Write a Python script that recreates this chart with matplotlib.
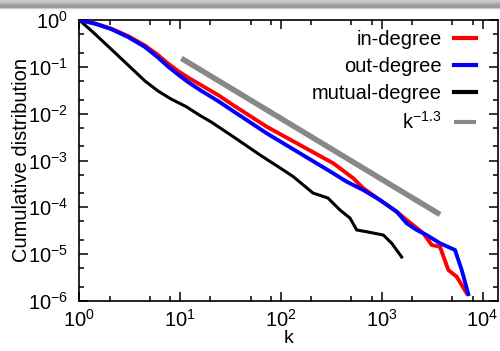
import numpy as np
import matplotlib
matplotlib.use("Agg")
import matplotlib.pyplot as plt
from matplotlib.ticker import LogLocator, NullFormatter

plt.rcParams['font.family'] = ['Liberation Sans', 'DejaVu Sans']
plt.rcParams['mathtext.fontset'] = 'custom'
plt.rcParams['mathtext.rm'] = 'Liberation Sans'
plt.rcParams['mathtext.it'] = 'Liberation Sans'

# ---- data ----
k_in = [1, 1.431, 2.063, 3.042, 4.485, 6.037, 7.586, 9.533, 11.98, 15.76, 23.77, 33.48,
        72.3, 155, 331, 523, 657, 962, 1409, 1770, 2588, 3133, 3787, 4581, 5550, 6970]
p_in = [1, 0.842, 0.658, 0.455, 0.2854, 0.1789, 0.1178, 0.0814, 0.0592, 0.04195,
        0.02503, 0.01531, 0.00527, 0.00214, 0.000871, 0.000417, 0.000255, 0.000143,
        8.06e-5, 5.36e-5, 2.79e-5, 1.57e-5, 1.44e-5, 4.59e-6, 3.30e-6, 1.46e-6]

k_out = [1, 1.431, 2.063, 3.042, 4.485, 6.037, 7.586, 9.533, 11.98, 15.76, 23.77, 33.48,
         72.3, 155, 331, 450, 657, 962, 1409, 1770, 2225, 2795, 3787, 5335, 6220, 7230]
p_out = [1, 0.834, 0.642, 0.4335, 0.2652, 0.1582, 0.1016, 0.0686, 0.0474, 0.0320,
         0.01864, 0.01140, 0.00381, 0.00142, 0.000532, 0.000352, 0.000234, 0.000143,
         8.06e-5, 4.56e-5, 3.28e-5, 2.56e-5, 1.71e-5, 1.23e-5, 4.59e-6, 1.40e-6]

k_mut = [1, 1.431, 2.063, 3.042, 4.485, 6.037, 8.124, 11.44, 15.76, 20.35, 33.7, 62.1,
         105.7, 132.8, 208, 293, 385, 484, 565, 710, 1038, 1257, 1578]
p_mut = [1, 0.5025, 0.2403, 0.1094, 0.0498, 0.03047, 0.02056, 0.01422, 0.00913,
         0.00664, 0.00322, 0.00131, 0.000626, 0.000451, 0.000202, 0.000158, 8.77e-5,
         5.92e-5, 3.28e-5, 3.01e-5, 2.56e-5, 1.71e-5, 8.69e-6]

k_fit = [10.3, 3790]
fit_exponent = -1.3
fit_const = 3.15

labels = ['in-degree', 'out-degree', 'mutual-degree', r'k$^{\mathregular{-1.3}}$']

# ---- figure ----
W, H = 500, 351
fig = plt.figure(figsize=(W / 100, H / 100), dpi=100)

# header gradient bar (screenshot chrome)
hax = fig.add_axes([0, 1 - 11 / H, 1, 11 / H])
grad = np.array([[0.80], [0.78], [0.74], [0.70], [0.66], [0.62], [0.60], [0.62],
                 [0.80], [0.95], [1.0]])
hax.imshow(np.repeat(grad, 3, axis=1), cmap='gray', vmin=0, vmax=1,
           aspect='auto', interpolation='bilinear', extent=[0, 1, 0, 1])
hax.axis('off')

ax = fig.add_axes([79.3 / W, 1 - 301 / H, (498 - 79.3) / W, (301 - 20) / H])

ax.plot(k_in, p_in, color='#ff0000', lw=2.8, label=labels[0], zorder=3)
ax.plot(k_out, p_out, color='#0000ff', lw=2.8, label=labels[1], zorder=4)
ax.plot(k_mut, p_mut, color='black', lw=2.2, label=labels[2], zorder=3)
kf = np.array(k_fit)
ax.plot(kf, fit_const * kf ** fit_exponent, color='#888888', lw=4.0,
        label=labels[3], zorder=2, solid_capstyle='butt')

ax.set_xscale('log')
ax.set_yscale('log')
ax.set_xlim(1, 10 ** ((498 - 79.3) / 100.8))
ax.set_ylim(1e-6, 1)

ax.xaxis.set_major_locator(LogLocator(base=10, numticks=10))
ax.xaxis.set_minor_locator(LogLocator(base=10, subs=[2, 5, 8], numticks=20))
ax.yaxis.set_major_locator(LogLocator(base=10, numticks=10))
ax.yaxis.set_minor_locator(LogLocator(base=10, subs=[2, 5], numticks=20))
ax.xaxis.set_minor_formatter(NullFormatter())
ax.yaxis.set_minor_formatter(NullFormatter())

ax.tick_params(which='both', direction='in', top=True, right=True, width=1.1)
ax.tick_params(which='major', length=6.5, labelsize=14.5)
ax.tick_params(axis='y', which='major', pad=8)
ax.tick_params(axis='x', which='major', pad=6)
ax.tick_params(which='minor', length=3.5)
for s in ax.spines.values():
    s.set_linewidth(1.2)

ax.set_xlabel('k', fontsize=14, labelpad=-1)
ax.set_ylabel('Cumulative distribution', fontsize=14.5, labelpad=-2)

leg = ax.legend(loc='upper right', bbox_to_anchor=(1 - 22 / (498 - 79.3), 1 - 10 / 281),
                frameon=False, markerfirst=False, fontsize=14.5,
                handlelength=1.1, handletextpad=0.6, labelspacing=0.4,
                borderpad=0, borderaxespad=0)
for line in leg.get_lines():
    line.set_linewidth(3.0)

fig.savefig('out.png', dpi=100)
